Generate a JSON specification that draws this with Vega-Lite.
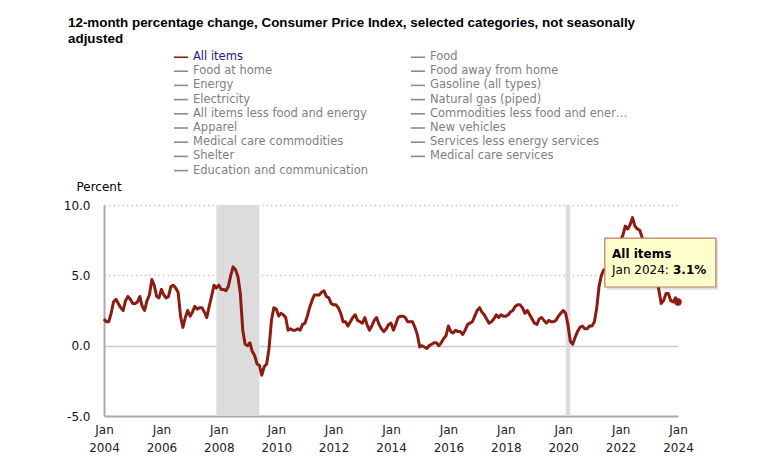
{
  "$schema": "https://vega.github.io/schema/vega-lite/v6.json",
  "width": 574,
  "height": 211,
  "autosize": {"type": "none"},
  "padding": {"left": 104, "top": 205, "right": 90, "bottom": 47},
  "background": "white",
  "config": {"view": {"stroke": null}, "font": "DejaVu Sans"},
  "title": {
    "text": ["12-month percentage change, Consumer Price Index, selected categories, not seasonally", "adjusted"],
    "anchor": "start", "frame": "group", "dx": -36, "offset": 4,
    "font": "Liberation Sans", "fontSize": 13.4, "fontWeight": "bold", "color": "#000000", "lineHeight": 16
  },
  "datasets": {
    "cpi": [
      {"month":"2004-01-01","value":1.9},{"month":"2004-02-01","value":1.7},{"month":"2004-03-01","value":1.7},{"month":"2004-04-01","value":2.3},{"month":"2004-05-01","value":3.1},{"month":"2004-06-01","value":3.3},{"month":"2004-07-01","value":3.0},{"month":"2004-08-01","value":2.7},{"month":"2004-09-01","value":2.5},{"month":"2004-10-01","value":3.2},{"month":"2004-11-01","value":3.5},{"month":"2004-12-01","value":3.3},
      {"month":"2005-01-01","value":3.0},{"month":"2005-02-01","value":3.0},{"month":"2005-03-01","value":3.1},{"month":"2005-04-01","value":3.5},{"month":"2005-05-01","value":2.8},{"month":"2005-06-01","value":2.5},{"month":"2005-07-01","value":3.2},{"month":"2005-08-01","value":3.6},{"month":"2005-09-01","value":4.7},{"month":"2005-10-01","value":4.3},{"month":"2005-11-01","value":3.5},{"month":"2005-12-01","value":3.4},
      {"month":"2006-01-01","value":4.0},{"month":"2006-02-01","value":3.6},{"month":"2006-03-01","value":3.4},{"month":"2006-04-01","value":3.5},{"month":"2006-05-01","value":4.2},{"month":"2006-06-01","value":4.3},{"month":"2006-07-01","value":4.1},{"month":"2006-08-01","value":3.8},{"month":"2006-09-01","value":2.1},{"month":"2006-10-01","value":1.3},{"month":"2006-11-01","value":2.0},{"month":"2006-12-01","value":2.5},
      {"month":"2007-01-01","value":2.1},{"month":"2007-02-01","value":2.4},{"month":"2007-03-01","value":2.8},{"month":"2007-04-01","value":2.6},{"month":"2007-05-01","value":2.7},{"month":"2007-06-01","value":2.7},{"month":"2007-07-01","value":2.4},{"month":"2007-08-01","value":2.0},{"month":"2007-09-01","value":2.8},{"month":"2007-10-01","value":3.5},{"month":"2007-11-01","value":4.3},{"month":"2007-12-01","value":4.1},
      {"month":"2008-01-01","value":4.3},{"month":"2008-02-01","value":4.0},{"month":"2008-03-01","value":4.0},{"month":"2008-04-01","value":3.9},{"month":"2008-05-01","value":4.2},{"month":"2008-06-01","value":5.0},{"month":"2008-07-01","value":5.6},{"month":"2008-08-01","value":5.4},{"month":"2008-09-01","value":4.9},{"month":"2008-10-01","value":3.7},{"month":"2008-11-01","value":1.1},{"month":"2008-12-01","value":0.1},
      {"month":"2009-01-01","value":0.0},{"month":"2009-02-01","value":0.2},{"month":"2009-03-01","value":-0.4},{"month":"2009-04-01","value":-0.7},{"month":"2009-05-01","value":-1.3},{"month":"2009-06-01","value":-1.4},{"month":"2009-07-01","value":-2.1},{"month":"2009-08-01","value":-1.5},{"month":"2009-09-01","value":-1.3},{"month":"2009-10-01","value":-0.2},{"month":"2009-11-01","value":1.8},{"month":"2009-12-01","value":2.7},
      {"month":"2010-01-01","value":2.6},{"month":"2010-02-01","value":2.1},{"month":"2010-03-01","value":2.3},{"month":"2010-04-01","value":2.2},{"month":"2010-05-01","value":2.0},{"month":"2010-06-01","value":1.1},{"month":"2010-07-01","value":1.2},{"month":"2010-08-01","value":1.1},{"month":"2010-09-01","value":1.1},{"month":"2010-10-01","value":1.2},{"month":"2010-11-01","value":1.1},{"month":"2010-12-01","value":1.5},
      {"month":"2011-01-01","value":1.6},{"month":"2011-02-01","value":2.1},{"month":"2011-03-01","value":2.7},{"month":"2011-04-01","value":3.2},{"month":"2011-05-01","value":3.6},{"month":"2011-06-01","value":3.6},{"month":"2011-07-01","value":3.6},{"month":"2011-08-01","value":3.8},{"month":"2011-09-01","value":3.9},{"month":"2011-10-01","value":3.5},{"month":"2011-11-01","value":3.4},{"month":"2011-12-01","value":3.0},
      {"month":"2012-01-01","value":2.9},{"month":"2012-02-01","value":2.9},{"month":"2012-03-01","value":2.7},{"month":"2012-04-01","value":2.3},{"month":"2012-05-01","value":1.7},{"month":"2012-06-01","value":1.7},{"month":"2012-07-01","value":1.4},{"month":"2012-08-01","value":1.7},{"month":"2012-09-01","value":2.0},{"month":"2012-10-01","value":2.2},{"month":"2012-11-01","value":1.8},{"month":"2012-12-01","value":1.7},
      {"month":"2013-01-01","value":1.6},{"month":"2013-02-01","value":2.0},{"month":"2013-03-01","value":1.5},{"month":"2013-04-01","value":1.1},{"month":"2013-05-01","value":1.4},{"month":"2013-06-01","value":1.8},{"month":"2013-07-01","value":2.0},{"month":"2013-08-01","value":1.5},{"month":"2013-09-01","value":1.2},{"month":"2013-10-01","value":1.0},{"month":"2013-11-01","value":1.2},{"month":"2013-12-01","value":1.5},
      {"month":"2014-01-01","value":1.6},{"month":"2014-02-01","value":1.1},{"month":"2014-03-01","value":1.5},{"month":"2014-04-01","value":2.0},{"month":"2014-05-01","value":2.1},{"month":"2014-06-01","value":2.1},{"month":"2014-07-01","value":2.0},{"month":"2014-08-01","value":1.7},{"month":"2014-09-01","value":1.7},{"month":"2014-10-01","value":1.7},{"month":"2014-11-01","value":1.3},{"month":"2014-12-01","value":0.8},
      {"month":"2015-01-01","value":-0.1},{"month":"2015-02-01","value":0.0},{"month":"2015-03-01","value":-0.1},{"month":"2015-04-01","value":-0.2},{"month":"2015-05-01","value":0.0},{"month":"2015-06-01","value":0.1},{"month":"2015-07-01","value":0.2},{"month":"2015-08-01","value":0.2},{"month":"2015-09-01","value":0.0},{"month":"2015-10-01","value":0.2},{"month":"2015-11-01","value":0.5},{"month":"2015-12-01","value":0.7},
      {"month":"2016-01-01","value":1.4},{"month":"2016-02-01","value":1.0},{"month":"2016-03-01","value":0.9},{"month":"2016-04-01","value":1.1},{"month":"2016-05-01","value":1.0},{"month":"2016-06-01","value":1.0},{"month":"2016-07-01","value":0.8},{"month":"2016-08-01","value":1.1},{"month":"2016-09-01","value":1.5},{"month":"2016-10-01","value":1.6},{"month":"2016-11-01","value":1.7},{"month":"2016-12-01","value":2.1},
      {"month":"2017-01-01","value":2.5},{"month":"2017-02-01","value":2.7},{"month":"2017-03-01","value":2.4},{"month":"2017-04-01","value":2.2},{"month":"2017-05-01","value":1.9},{"month":"2017-06-01","value":1.6},{"month":"2017-07-01","value":1.7},{"month":"2017-08-01","value":1.9},{"month":"2017-09-01","value":2.2},{"month":"2017-10-01","value":2.0},{"month":"2017-11-01","value":2.2},{"month":"2017-12-01","value":2.1},
      {"month":"2018-01-01","value":2.1},{"month":"2018-02-01","value":2.2},{"month":"2018-03-01","value":2.4},{"month":"2018-04-01","value":2.5},{"month":"2018-05-01","value":2.8},{"month":"2018-06-01","value":2.9},{"month":"2018-07-01","value":2.9},{"month":"2018-08-01","value":2.7},{"month":"2018-09-01","value":2.3},{"month":"2018-10-01","value":2.5},{"month":"2018-11-01","value":2.2},{"month":"2018-12-01","value":1.9},
      {"month":"2019-01-01","value":1.6},{"month":"2019-02-01","value":1.5},{"month":"2019-03-01","value":1.9},{"month":"2019-04-01","value":2.0},{"month":"2019-05-01","value":1.8},{"month":"2019-06-01","value":1.6},{"month":"2019-07-01","value":1.8},{"month":"2019-08-01","value":1.7},{"month":"2019-09-01","value":1.7},{"month":"2019-10-01","value":1.8},{"month":"2019-11-01","value":2.1},{"month":"2019-12-01","value":2.3},
      {"month":"2020-01-01","value":2.5},{"month":"2020-02-01","value":2.3},{"month":"2020-03-01","value":1.5},{"month":"2020-04-01","value":0.3},{"month":"2020-05-01","value":0.1},{"month":"2020-06-01","value":0.6},{"month":"2020-07-01","value":1.0},{"month":"2020-08-01","value":1.3},{"month":"2020-09-01","value":1.4},{"month":"2020-10-01","value":1.2},{"month":"2020-11-01","value":1.2},{"month":"2020-12-01","value":1.4},
      {"month":"2021-01-01","value":1.4},{"month":"2021-02-01","value":1.7},{"month":"2021-03-01","value":2.6},{"month":"2021-04-01","value":4.2},{"month":"2021-05-01","value":5.0},{"month":"2021-06-01","value":5.4},{"month":"2021-07-01","value":5.4},{"month":"2021-08-01","value":5.3},{"month":"2021-09-01","value":5.4},{"month":"2021-10-01","value":6.2},{"month":"2021-11-01","value":6.8},{"month":"2021-12-01","value":7.0},
      {"month":"2022-01-01","value":7.5},{"month":"2022-02-01","value":7.9},{"month":"2022-03-01","value":8.5},{"month":"2022-04-01","value":8.3},{"month":"2022-05-01","value":8.6},{"month":"2022-06-01","value":9.1},{"month":"2022-07-01","value":8.5},{"month":"2022-08-01","value":8.3},{"month":"2022-09-01","value":8.2},{"month":"2022-10-01","value":7.7},{"month":"2022-11-01","value":7.1},{"month":"2022-12-01","value":6.5},
      {"month":"2023-01-01","value":6.4},{"month":"2023-02-01","value":6.0},{"month":"2023-03-01","value":5.0},{"month":"2023-04-01","value":4.9},{"month":"2023-05-01","value":4.0},{"month":"2023-06-01","value":3.0},{"month":"2023-07-01","value":3.2},{"month":"2023-08-01","value":3.7},{"month":"2023-09-01","value":3.7},{"month":"2023-10-01","value":3.2},{"month":"2023-11-01","value":3.1},{"month":"2023-12-01","value":3.4},
      {"month":"2024-01-01","value":3.1}
    ],
    "latest": [{"month":"2024-01-01","value":3.1}],
    "recessions": [
      {"start":"2007-12-01","end":"2009-06-01"},
      {"start":"2020-02-01","end":"2020-04-01"}
    ],
    "tipbox": [{"x1":"2021-06-14","x2":"2025-04-27","y1":4.17,"y2":7.65}],
    "tipshadow": [{"x1":"2021-07-12","x2":"2025-05-24","y1":3.97,"y2":7.45}],
    "tipbold": [
      {"x":"2021-09-13","y":6.52,"t":"All items"},
      {"x":"2023-10-29","y":5.38,"t":"3.1%"}
    ],
    "tipnormal": [{"x":"2021-09-13","y":5.38,"t":"Jan 2024:"}]
  },
  "layer": [
    {
      "data": {"name": "recessions"},
      "mark": {"type": "rect", "color": "#dcdcdc"},
      "encoding": {
        "x": {"field": "start", "type": "temporal", "scale": {"type": "utc", "domain": ["2004-01-01", "2024-01-01"], "nice": false}},
        "x2": {"field": "end"}
      }
    },
    {
      "data": {"name": "cpi"},
      "mark": {"type": "line", "strokeWidth": 3, "strokeJoin": "round"},
      "encoding": {
        "x": {
          "field": "month", "type": "temporal",
          "scale": {"type": "utc", "domain": ["2004-01-01", "2024-01-01"], "nice": false},
          "axis": {
            "title": null, "orient": "bottom",
            "tickCount": {"interval": "year", "step": 2},
            "labelExpr": "['Jan', utcFormat(datum.value, '%Y')]",
            "labelAlign": "center", "labelFlush": false, "labelOverlap": false,
            "labelFont": "DejaVu Sans", "labelFontSize": 12, "labelLineHeight": 18, "labelColor": "#222222",
            "labelPadding": 8, "ticks": false, "grid": false,
            "domainColor": "#aaaaaa", "domainWidth": 2
          }
        },
        "y": {
          "field": "value", "type": "quantitative",
          "scale": {"domain": [-5, 10], "nice": false, "zero": false},
          "axis": {
            "values": [-5, 0, 5, 10],
            "labelExpr": "datum.value < 0 ? '-' + format(-datum.value, '.1f') : format(datum.value, '.1f')",
            "title": "Percent", "titleAngle": 0, "titleX": -28, "titleY": -19,
            "titleAlign": "left", "titleBaseline": "middle", "titleFont": "DejaVu Sans",
            "titleFontSize": 12, "titleFontWeight": "normal", "titleColor": "#000000",
            "labelFont": "DejaVu Sans", "labelFontSize": 12, "labelColor": "#111111", "labelPadding": 14,
            "ticks": false, "domainColor": "#aaaaaa", "domainWidth": 2,
            "grid": true,
            "gridColor": {"condition": {"test": "datum.value === 0", "value": "#c8ccd8"}, "value": "#c8c8c8"},
            "gridDash": {"condition": {"test": "datum.value === 0", "value": []}, "value": [1.5, 3]},
            "gridWidth": 1.5,
            "gridOpacity": {"condition": {"test": "datum.value === -5", "value": 0}, "value": 1}
          }
        },
        "color": {
          "datum": "All items", "type": "nominal",
          "scale": {
            "domain": ["All items", "Food at home", "Energy", "Electricity", "All items less food and energy", "Apparel", "Medical care commodities", "Shelter", "Education and communication", "Food", "Food away from home", "Gasoline (all types)", "Natural gas (piped)", "Commodities less food and energy commodities", "New vehicles", "Services less energy services", "Medical care services"],
            "range": ["#8c1c13", "#8c8c8c", "#8c8c8c", "#8c8c8c", "#8c8c8c", "#8c8c8c", "#8c8c8c", "#8c8c8c", "#8c8c8c", "#8c8c8c", "#8c8c8c", "#8c8c8c", "#8c8c8c", "#8c8c8c", "#8c8c8c", "#8c8c8c", "#8c8c8c"]
          },
          "legend": {
            "title": null, "orient": "none", "legendX": 69, "legendY": -156,
            "columns": 2, "columnPadding": 38, "rowPadding": 0.2,
            "symbolType": "stroke", "symbolSize": 196, "symbolStrokeWidth": 1.6,
            "labelFont": "DejaVu Sans", "labelFontSize": 11.5, "labelColor": "#808080",
            "labelOffset": 4, "labelLimit": 203,
            "encode": {
              "labels": {"update": {"fill": [{"test": "datum.value === 'All items'", "value": "#1a1a80"}, {"value": "#808080"}]}}
            }
          }
        }
      }
    },
    {
      "data": {"name": "latest"},
      "mark": {"type": "point", "filled": true, "size": 55, "opacity": 1, "color": "#8c1c13"},
      "encoding": {
        "x": {"field": "month", "type": "temporal", "scale": {"type": "utc", "domain": ["2004-01-01", "2024-01-01"], "nice": false}},
        "y": {"field": "value", "type": "quantitative", "scale": {"domain": [-5, 10], "nice": false, "zero": false}}
      }
    },
    {
      "data": {"name": "tipshadow"},
      "mark": {"type": "rect", "color": "#000000", "opacity": 0.12},
      "encoding": {
        "x": {"field": "x1", "type": "temporal"}, "x2": {"field": "x2"},
        "y": {"field": "y1", "type": "quantitative"}, "y2": {"field": "y2"}
      }
    },
    {
      "data": {"name": "tipbox"},
      "mark": {"type": "rect", "fill": "#ffffcc", "stroke": "#c07a60", "strokeWidth": 1.2},
      "encoding": {
        "x": {"field": "x1", "type": "temporal"}, "x2": {"field": "x2"},
        "y": {"field": "y1", "type": "quantitative"}, "y2": {"field": "y2"}
      }
    },
    {
      "data": {"name": "tipbold"},
      "mark": {"type": "text", "align": "left", "baseline": "middle", "font": "DejaVu Sans", "fontSize": 12, "fontWeight": "bold", "color": "#000000"},
      "encoding": {
        "x": {"field": "x", "type": "temporal"},
        "y": {"field": "y", "type": "quantitative"},
        "text": {"field": "t"}
      }
    },
    {
      "data": {"name": "tipnormal"},
      "mark": {"type": "text", "align": "left", "baseline": "middle", "font": "DejaVu Sans", "fontSize": 12, "color": "#000000"},
      "encoding": {
        "x": {"field": "x", "type": "temporal"},
        "y": {"field": "y", "type": "quantitative"},
        "text": {"field": "t"}
      }
    }
  ]
}
